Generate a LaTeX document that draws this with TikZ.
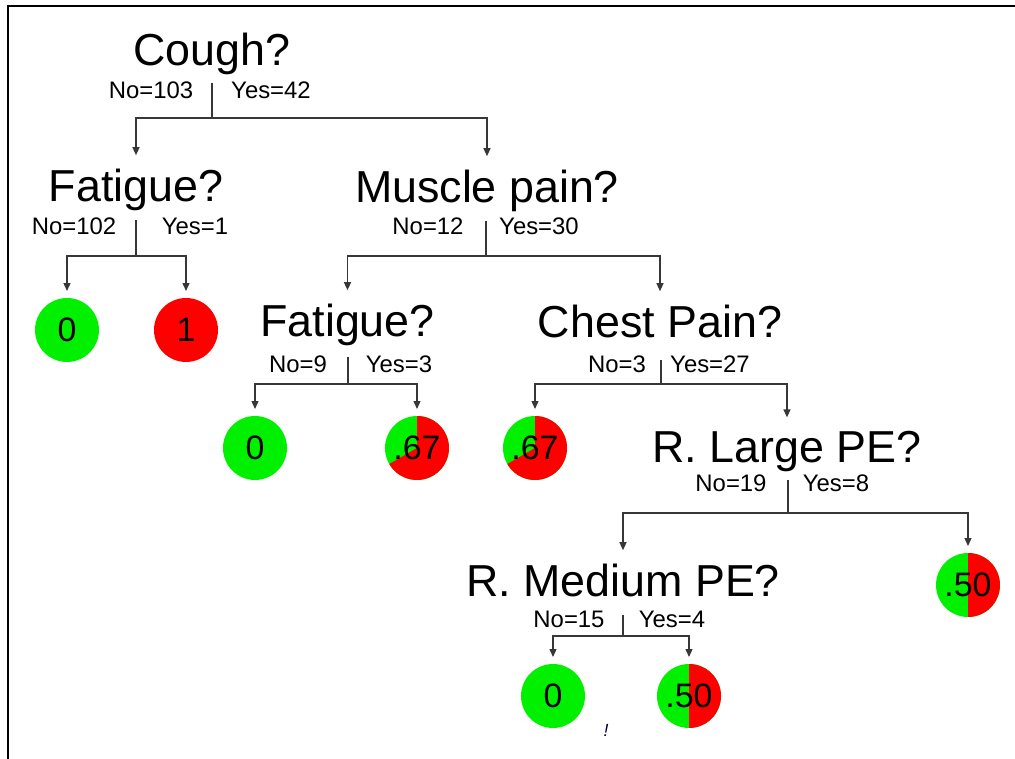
\documentclass[tikz,border=0pt]{standalone}
\usepackage{fontspec}
\setmainfont{Liberation Sans}
\usetikzlibrary{arrows.meta}
\definecolor{leafgreen}{RGB}{0,240,0}
\definecolor{leafred}{RGB}{255,0,0}
\definecolor{linegray}{RGB}{55,55,55}

\tikzset{
  pie/.style={path picture={\fill[leafred] (path picture bounding box.center) -- ++(90:1cm)
      arc[start angle=90,end angle=#1,radius=1cm] -- cycle;}}
}

\begin{document}
\begin{tikzpicture}[x=0.02cm,y=-0.02cm]
  \useasboundingbox (0,0) rectangle (1015,759);
  \draw[line width=0.04cm] (8,759) -- (8,6) -- (1015,6);

  % questions
  \begin{scope}[every node/.style={anchor=base,inner xsep=0pt,inner ysep=0.28cm,
      font=\fontsize{25.5}{25.5}\selectfont}]
    \node (cough) at (211.5,66) {Cough?};
    \node (fat1) at (136,202) {Fatigue?};
    \node (muscle) at (487,203) {Muscle pain?};
    \node (fat2) at (347.5,337) {Fatigue?};
    \node (chest) at (660,338) {Chest Pain?};
    \node (rlarge) at (787,463) {R. Large PE?};
    \node (rmed) at (623,597) {R. Medium PE?};
  \end{scope}

  % counts
  \begin{scope}[every node/.style={anchor=base,inner sep=0pt,
      font=\fontsize{13.6}{13.6}\selectfont}]
    \node (cough-no) at (151,99) {No=103};
    \node (cough-yes) at (271,99) {Yes=42};
    \node (fat1-no) at (74,235) {No=102};
    \node (fat1-yes) at (195,235) {Yes=1};
    \node (muscle-no) at (428,235) {No=12};
    \node (muscle-yes) at (539,235) {Yes=30};
    \node (fat2-no) at (298,373) {No=9};
    \node (fat2-yes) at (399,373) {Yes=3};
    \node (chest-no) at (617,373) {No=3};
    \node (chest-yes) at (710,373) {Yes=27};
    \node (rlarge-no) at (731,492) {No=19};
    \node (rlarge-yes) at (836,492) {Yes=8};
    \node (rmed-no) at (569,628) {No=15};
    \node (rmed-yes) at (672,628) {Yes=4};
  \end{scope}

  % leaves
  \begin{scope}[every node/.style={circle,minimum size=1.28cm,inner sep=0pt,outer sep=0.14cm,
      fill=leafgreen,font=\fontsize{19.3}{19.3}\selectfont}]
    \node (fat1-l) at (67,330) {0};
    \node[fill=leafred] (fat1-r) at (186,330) {1};
    \node (fat2-l) at (255,448) {0};
    \node[pie=-150] (fat2-r) at (417,448) {.67};
    \node[pie=-150] (chest-l) at (535,448) {.67};
    \node[pie=-90] (rlarge-r) at (968,585) {.50};
    \node (rmed-l) at (553,696) {0};
    \node[pie=-90] (rmed-r) at (689,696) {.50};
  \end{scope}

  \node[inner sep=0pt,text=black!80!blue,font=\itshape\fontsize{10}{10}\selectfont] (stray) at (606,730) {!};

  % splits
  \coordinate (cough-t) at (212,83);   \coordinate (cough-j) at (212,118);
  \coordinate (fat1-t) at (136,220);   \coordinate (fat1-j) at (136,256);
  \coordinate (muscle-t) at (486,221); \coordinate (muscle-j) at (486,256);
  \coordinate (fat2-t) at (348,357);   \coordinate (fat2-j) at (348,384);
  \coordinate (chest-t) at (661,360);  \coordinate (chest-j) at (661,384);
  \coordinate (rlarge-t) at (788,480); \coordinate (rlarge-j) at (788,513);
  \coordinate (rmed-t) at (623,615);   \coordinate (rmed-j) at (623,636);

  \begin{scope}[color=linegray,line width=0.026cm,>={Triangle[length=0.16cm,width=0.14cm]}]
    \draw (cough-t) -- (cough-j);
    \draw[->] (cough-j) -| (fat1);
    \draw[->] (cough-j) -| (muscle);
    \draw (fat1-t) -- (fat1-j);
    \draw[->] (fat1-j) -| (fat1-l);
    \draw[->] (fat1-j) -| (fat1-r);
    \draw (muscle-t) -- (muscle-j);
    \draw[->] (muscle-j) -| (fat2);
    \draw[->] (muscle-j) -| (chest);
    \draw (fat2-t) -- (fat2-j);
    \draw[->] (fat2-j) -| (fat2-l);
    \draw[->] (fat2-j) -| (fat2-r);
    \draw (chest-t) -- (chest-j);
    \draw[->] (chest-j) -| (chest-l);
    \draw[->] (chest-j) -| (rlarge);
    \draw (rlarge-t) -- (rlarge-j);
    \draw[->] (rlarge-j) -| (rmed);
    \draw[->] (rlarge-j) -| (rlarge-r);
    \draw (rmed-t) -- (rmed-j);
    \draw[->] (rmed-j) -| (rmed-l);
    \draw[->] (rmed-j) -| (rmed-r);
  \end{scope}
\end{tikzpicture}
\end{document}
